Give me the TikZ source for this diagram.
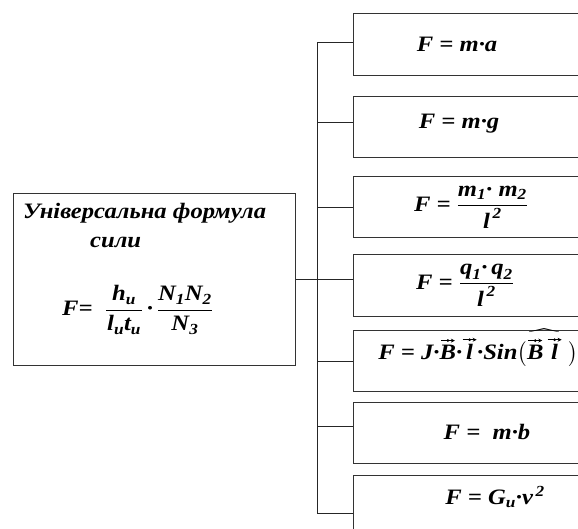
\documentclass[tikz,border=0pt]{standalone}
\usepackage{fix-cm}
\usepackage{amsmath}
\usepackage{fontspec}
\setmainfont[FakeStretch=1.12]{Liberation Serif}
\usetikzlibrary{arrows.meta}
% bold italic text inside formulas
\newcommand\bi[1]{\text{\bfseries\itshape #1}}
% vector mark: short arrow with a dot on its shaft
\newcommand\vv[1]{\overset{\tikz[baseline=0pt]{\draw[line width=0.9pt,-{Stealth[length=4pt,width=4pt]}] (0pt,0pt)--(14pt,0pt); \fill (7pt,0pt) circle (1.5pt);}}{#1}}
\tikzset{
  box/.style={draw=black!80, line width=1pt, inner sep=0pt, anchor=north west},
  wire/.style={draw=black!85, line width=1pt},
  txt/.style={font=\bfseries\itshape\fontsize{22}{25}\selectfont, inner sep=0pt},
  ftxt/.style={font=\bfseries\itshape\fontsize{22}{25}\selectfont, inner sep=0pt},
}
\begin{document}
\begin{tikzpicture}[x=1pt,y=-1pt]
\useasboundingbox (0,0) rectangle (578,529);
\clip (0,0) rectangle (578,529);

% central box with the general formula
\node[box, minimum width=282pt, minimum height=172pt] (main) at (13,193) {};
\node[txt, anchor=base west] (title) at (23,219) {Універсальна формула};
\node[txt, anchor=base west] (title2) at (90,248) {сили};
\node[ftxt, anchor=west] (fmain) at (62,310)
  {$\bi{F=}\;\;\dfrac{\;\bi{h}_{\bi{u}}\;}{\bi{l}_{\bi{u}}\bi{t}_{\bi{u}}}\,\bi{·}\,\dfrac{\bi{N}_{\bi{1}}\bi{N}_{\bi{2}}}{\bi{N}_{\bi{3}}}$};

% particular formulas
\node[box, minimum width=260pt, minimum height=62pt] (b1) at (353,13) {};
\node[box, minimum width=260pt, minimum height=61pt] (b2) at (353,96) {};
\node[box, minimum width=260pt, minimum height=61pt] (b3) at (353,176) {};
\node[box, minimum width=260pt, minimum height=62pt] (b4) at (353,254) {};
\node[box, minimum width=260pt, minimum height=61pt] (b5) at (353,330) {};
\node[box, minimum width=260pt, minimum height=61pt] (b6) at (353,402) {};
\node[box, minimum width=260pt, minimum height=70pt] (b7) at (353,475) {};

\node[txt] (f1) at (457,44) {F = m·a};
\node[txt] (f2) at (459,124) {F = m·g};
\node[txt] (f3) at (471,207)
  {$\bi{F =}\;\dfrac{\bi{m}_{\bi{1}}\bi{·}\;\bi{m}_{\bi{2}}}{\bi{l}^{\,\bi{2}}}$};
\node[txt] (f4) at (465,285)
  {$\bi{F =}\;\dfrac{\bi{q}_{\bi{1}}\bi{·}\,\bi{q}_{\bi{2}}}{\bi{l}^{\,\bi{2}}}$};
\node[txt] (f5) at (478,348)
  {$\bi{F = J}\bi{·}\vv{\bi{B}}\bi{·}\vv{\bi{l}}\bi{·Sin}\bigl(\widehat{\vv{\bi{B}}\,\vv{\bi{l}}}\;\bigr)$};
\node[txt] (f6) at (487,432) {F =\ \ m·b};
\node[txt] (f7) at (495,497) {$\bi{F = G}_{\bi{u}}\bi{·}\bi{v}^{\,\bi{2}}$};

% branching connectors
\coordinate (j1) at (317,43);
\coordinate (j2) at (317,123);
\coordinate (j3) at (317,208);
\coordinate (j4) at (317,280);
\coordinate (j5) at (317,361);
\coordinate (j6) at (317,426);
\coordinate (j7) at (317,513);
\draw[wire] (j1) -- (j7);
\draw[wire] (main.east |- j4) -- (j4 -| b4.west);
\foreach \i in {1,2,3,5,6,7}
  \draw[wire] (j\i) -- (j\i -| b\i.west);
\end{tikzpicture}
\end{document}
